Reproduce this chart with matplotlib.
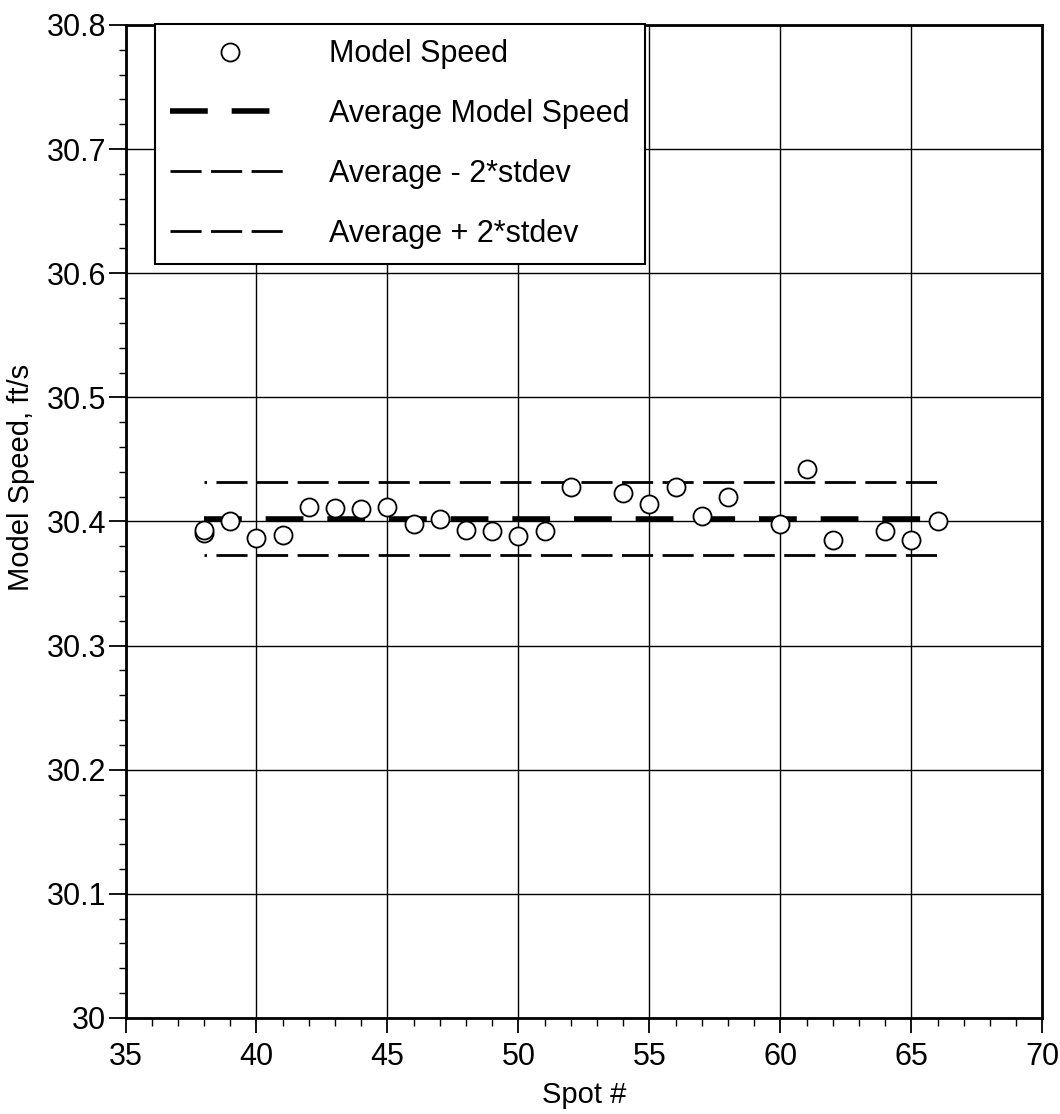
import matplotlib
matplotlib.use("Agg")
import matplotlib.pyplot as plt
from matplotlib.lines import Line2D
from matplotlib.ticker import MultipleLocator, FuncFormatter

plt.rcParams['font.family'] = ['Liberation Sans', 'DejaVu Sans']

# ---- data ----
spots = [38, 38, 39, 40, 41, 42, 43, 44, 45, 46, 47, 48, 49, 50, 51, 52,
         54, 55, 56, 57, 58, 60, 61, 62, 64, 65, 66]
speeds = [30.391, 30.393, 30.400, 30.387, 30.389, 30.412, 30.411, 30.410, 30.412,
          30.398, 30.402, 30.393, 30.392, 30.388, 30.392, 30.428,
          30.423, 30.414, 30.428, 30.404, 30.420, 30.398, 30.442, 30.385,
          30.392, 30.385, 30.400]
line_x = [38, 66]
avg_speed = 30.402
avg_minus = 30.373
avg_plus = 30.432
labels = ['Model Speed', 'Average Model Speed', 'Average - 2*stdev', 'Average + 2*stdev']

fig = plt.figure(figsize=(10.6, 11.14), dpi=100)
ax = fig.add_axes([0.1184, 0.0862, 0.865, 0.8914])

ax.set_xlim(35, 70)
ax.set_ylim(30.0, 30.8)
ax.grid(True, which='major', color='black', linewidth=1.0)
ax.set_axisbelow(True)

thick_ls = (0, (6.8, 4.3))
thin_ls = (0, (11.2, 3.4))
ax.plot(spots, speeds, linestyle='none', marker='o', markersize=13,
        markerfacecolor='white', markeredgecolor='black', markeredgewidth=1.3,
        zorder=5)
ax.plot(line_x, [avg_speed, avg_speed], color='black', linewidth=4.0,
        linestyle=thick_ls, zorder=4)
ax.plot(line_x, [avg_minus, avg_minus], color='black', linewidth=2.0,
        linestyle=(10.3, (11.2, 3.4)), zorder=4)
ax.plot(line_x, [avg_plus, avg_plus], color='black', linewidth=2.0,
        linestyle=(10.3, (11.2, 3.4)), zorder=4)

ax.xaxis.set_major_locator(MultipleLocator(5))
ax.xaxis.set_minor_locator(MultipleLocator(1))
ax.yaxis.set_major_locator(MultipleLocator(0.1))
ax.yaxis.set_minor_locator(MultipleLocator(0.02))
ax.yaxis.set_major_formatter(FuncFormatter(lambda v, p: '%g' % round(v, 2)))

ax.tick_params(axis='x', which='major', direction='out', length=11, width=1.3,
               labelsize=22, pad=6)
ax.tick_params(axis='x', which='minor', direction='out', length=6, width=1.0)
ax.tick_params(axis='y', which='major', direction='out', length=12, width=1.3,
               labelsize=22, pad=2)
ax.tick_params(axis='y', which='minor', direction='out', length=5, width=1.0)

for s in ['left', 'bottom', 'top', 'right']:
    ax.spines[s].set_linewidth(2.0)

ax.set_xlabel('Spot #', fontsize=21)
ax.set_ylabel('Model Speed, ft/s', fontsize=21)
ax.xaxis.set_label_coords(0.5, -0.063)
ax.yaxis.set_label_coords(-0.099, 0.544)

handles = [
    Line2D([], [], linestyle='none', marker='o', markersize=13,
           markerfacecolor='white', markeredgecolor='black', markeredgewidth=1.3),
    Line2D([], [], color='black', linewidth=4.0, linestyle=thick_ls),
    Line2D([], [], color='black', linewidth=2.0, linestyle=thin_ls),
    Line2D([], [], color='black', linewidth=2.0, linestyle=thin_ls),
]
leg = ax.legend(handles, labels, loc='upper left', bbox_to_anchor=(0.032, 1.001),
                borderaxespad=0, fontsize=22, numpoints=1, handlelength=3.9,
                handletextpad=1.3, labelspacing=0.98, borderpad=0.5,
                fancybox=False, edgecolor='black', framealpha=1)
leg.get_frame().set_linewidth(1.5)

fig.savefig('out.png', dpi=100)
